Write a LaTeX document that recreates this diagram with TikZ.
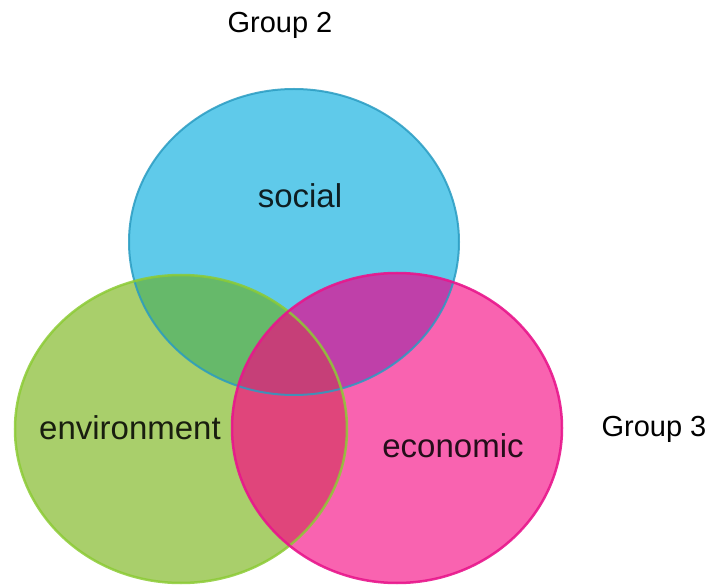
\documentclass[tikz,border=0pt]{standalone}
\usepackage{fontspec}
\setmainfont{Liberation Sans}
\usetikzlibrary{positioning}

\definecolor{socialfill}{HTML}{5FCAEA}
\definecolor{socialline}{HTML}{2A9CC2}
\definecolor{envfill}{HTML}{A9CF6B}
\definecolor{envline}{HTML}{8CCB35}
\definecolor{econfill}{HTML}{F963B0}
\definecolor{econline}{HTML}{E8168C}
\definecolor{socenv}{HTML}{66B96A}
\definecolor{socecon}{HTML}{BF40A9}
\definecolor{envecon}{HTML}{E0457B}
\definecolor{allthree}{HTML}{C63F78}

\begin{document}
\begin{tikzpicture}
	[x=1pt, y=-1pt,
	grouptext/.style = {font=\fontsize{29}{34}\selectfont, anchor=base west},
	word/.style = {font=\fontsize{33}{38}\selectfont, anchor=base, text opacity=0.85}]
	\useasboundingbox (0,0) rectangle (705,585);
	% the three circles
	\fill[socialfill] (294,242) ellipse (165 and 153);
	\fill[envfill] (181,429) ellipse (166 and 154);
	\fill[econfill] (397,428) ellipse (165 and 155);
	% overlaps
	\begin{scope}
		\clip (294,242) ellipse (165 and 153);
		\fill[socenv] (181,429) ellipse (166 and 154);
		\fill[socecon] (397,428) ellipse (165 and 155);
	\end{scope}
	\begin{scope}
		\clip (181,429) ellipse (166 and 154);
		\clip (397,428) ellipse (165 and 155);
		\fill[envecon] (397,428) ellipse (165 and 155);
		\clip (294,242) ellipse (165 and 153);
		\fill[allthree] (294,242) ellipse (165 and 153);
	\end{scope}
	% borders
	\draw[socialline, line width=2pt, opacity=0.85] (294,242) ellipse (165 and 153);
	\draw[envline, line width=2.5pt, opacity=0.85] (181,429) ellipse (166 and 154);
	\draw[econline, line width=2.5pt, opacity=0.9] (397,428) ellipse (165 and 155);
	% texts
	\node[word] (social) at (300,208) {social};
	\node[word] (environment) at (130,440) {environment};
	\node[word] (economic) at (453,458) {economic};
	\node[grouptext] (group2) at (224,33) {Group 2};
	\node[grouptext] (group3) at (598,437) {Group 3};
\end{tikzpicture}
\end{document}
